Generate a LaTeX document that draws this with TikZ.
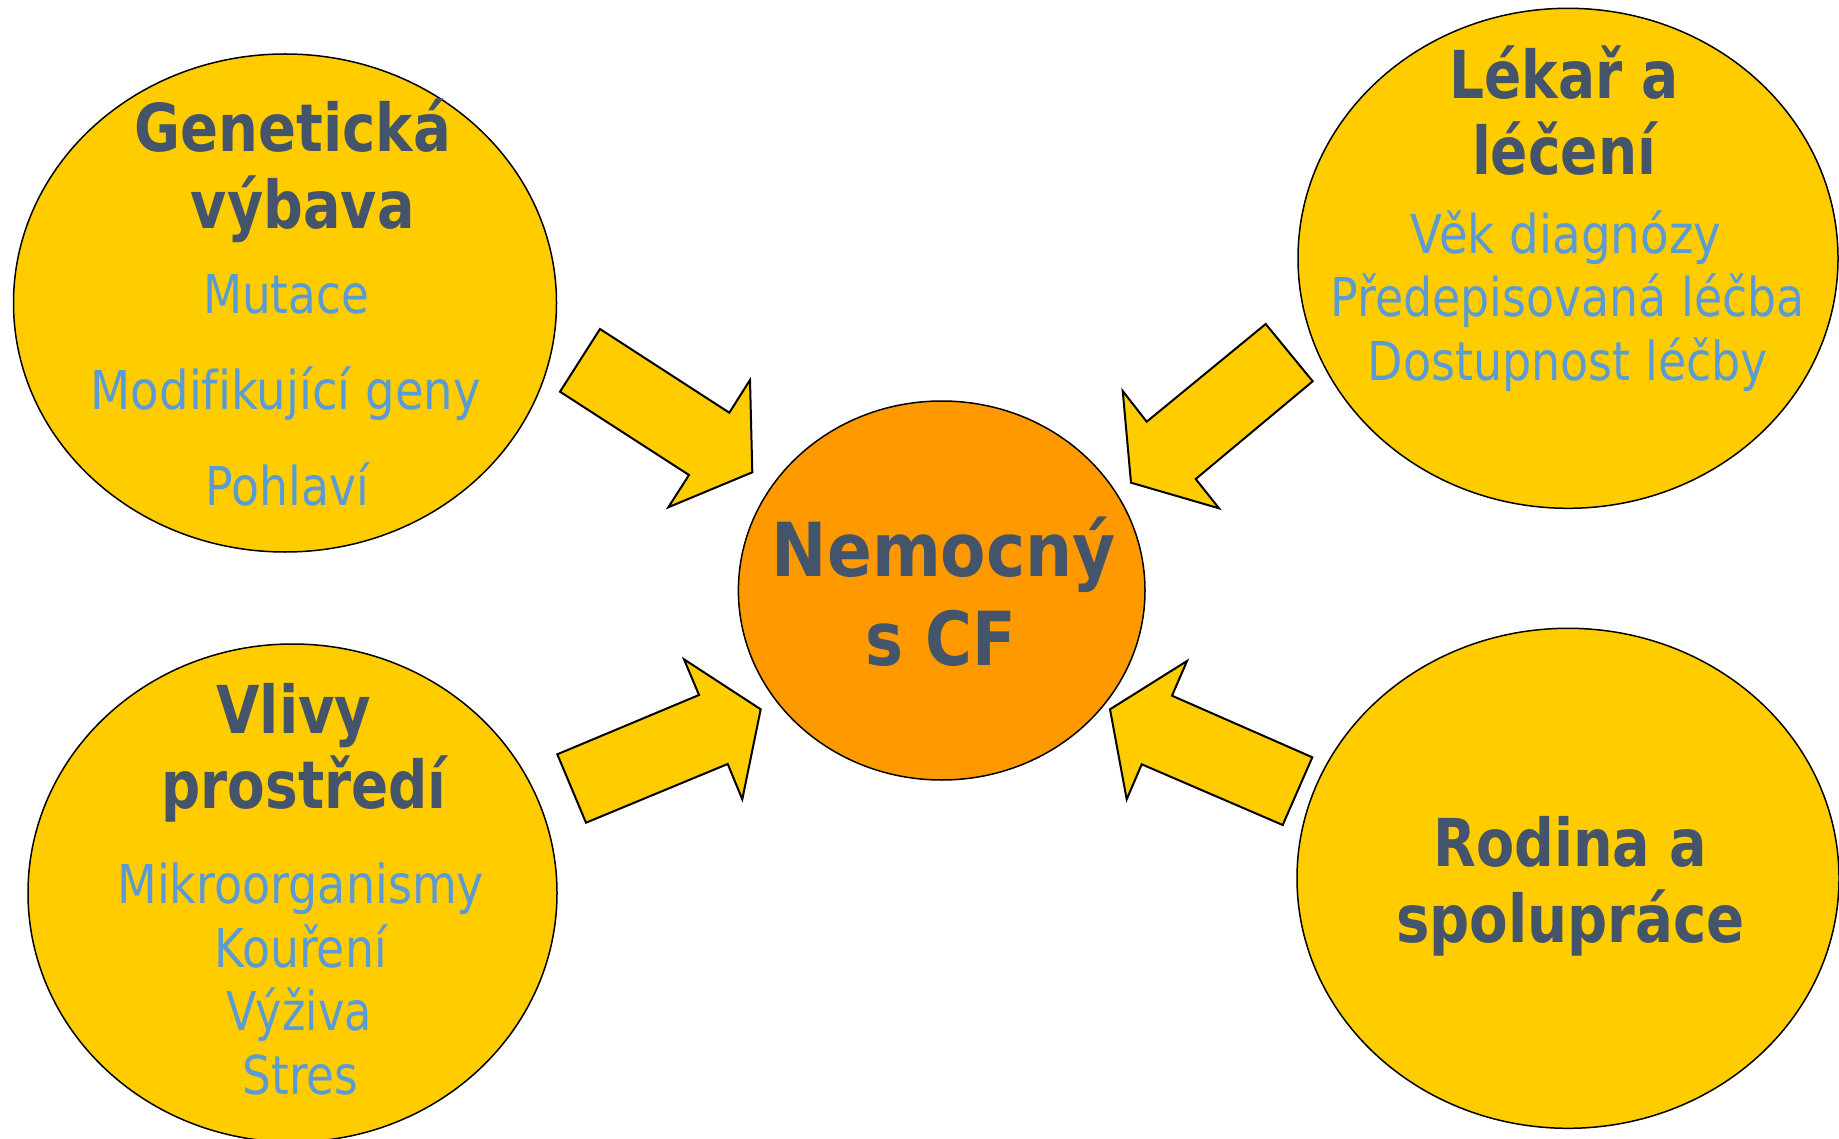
\documentclass[tikz,border=0pt]{standalone}
\usepackage{fontspec}
\setmainfont[Ligatures=NoCommon]{DejaVu Sans}
\usepackage{graphicx}
\usetikzlibrary{shapes.geometric}
\definecolor{cfyellow}{HTML}{FFCC00}
\definecolor{cforange}{HTML}{FF9900}
\definecolor{cftitle}{HTML}{44546A}
\definecolor{cfblue}{HTML}{5B9BD5}
\newcommand\fitline[2]{\resizebox{#1pt}{\height}{#2}}
\tikzset{
  ell/.style={ellipse, draw=black, line width=1.5pt, fill=cfyellow, inner sep=0pt},
  ttl/.style={anchor=base, inner sep=0pt, text=cftitle, font=\fontsize{66}{66}\selectfont\bfseries},
  bigttl/.style={anchor=base, inner sep=0pt, text=cftitle, font=\fontsize{74.5}{74.5}\selectfont\bfseries},
  itm/.style={anchor=base, inner sep=0pt, text=cfblue, font=\fontsize{53.5}{53.5}\selectfont},
  bigarrow/.style={draw=black, line width=2pt, fill=cfyellow, line join=miter}
}
\begin{document}
\begin{tikzpicture}[x=1pt, y=-1pt]
\useasboundingbox (0,0) rectangle (1839,1139);
\clip (0,0) rectangle (1839,1139);
% ellipses
\node[ell, minimum width=543pt, minimum height=498pt] (gen) at (285,303) {};
\node[ell, minimum width=540pt, minimum height=500pt] (lek) at (1568,258.3) {};
\node[ell, minimum width=529pt, minimum height=498pt] (vliv) at (292.5,893) {};
\node[ell, minimum width=542pt, minimum height=500pt] (rod) at (1568,878.3) {};
\node[ell, fill=cforange, minimum width=406.6pt, minimum height=379pt] (cf) at (941.7,590.5) {};
% arrows
\draw[bigarrow] (560,391.7) -- (600,329) -- (729.3,412.7) -- (750,380) -- (752.3,472.3) -- (668.3,507.3) -- (689,475) -- cycle;
\draw[bigarrow] (1265.7,324) -- (1312.7,381.3) -- (1195.7,479) -- (1219,508.3) -- (1131,482.7) -- (1122.7,391) -- (1146.7,421.7) -- cycle;
\draw[bigarrow] (557.3,754.3) -- (699,695) -- (684,659.3) -- (760.7,709.3) -- (742.3,799.3) -- (727.7,764) -- (586,822.7) -- cycle;
\draw[bigarrow] (1312.3,757.3) -- (1172,695.7) -- (1187,661) -- (1110,709.3) -- (1126.7,799.3) -- (1141.7,764.3) -- (1282.7,825) -- cycle;
% center text
\node[bigttl] (cf1) at (943.8,576) {\fitline{344}{Nemocný}};
\node[bigttl] (cf2) at (941,665.7) {\fitline{150.7}{s CF}};
% genetic
\node[ttl] (gen1) at (292.7,151.7) {\fitline{316.4}{Genetická}};
\node[ttl] (gen2) at (302.7,228.3) {\fitline{223.6}{výbava}};
\node[itm] (gen3) at (286,314) {\fitline{166}{Mutace}};
\node[itm] (gen4) at (285.8,409.3) {\fitline{390}{Modifikující geny}};
\node[itm] (gen5) at (287.3,505) {\fitline{163.6}{Pohlaví}};
% doctor
\node[ttl] (lek1) at (1564,98.3) {\fitline{229.4}{Lékař a}};
\node[ttl] (lek2) at (1564,175) {\fitline{184}{léčení}};
\node[itm] (lek3) at (1566,254) {\fitline{310.6}{Věk diagnózy}};
\node[itm] (lek4) at (1567.5,316.7) {\fitline{474.4}{Předepisovaná léčba}};
\node[itm] (lek5) at (1568,380.7) {\fitline{400.3}{Dostupnost léčby}};
% environment
\node[ttl] (vliv1) at (294,733.3) {\fitline{155}{Vlivy}};
\node[ttl] (vliv2) at (304,808.3) {\fitline{285}{prostředí}};
\node[itm] (vliv3) at (300.7,903.3) {\fitline{366.7}{Mikroorganismy}};
\node[itm] (vliv4) at (300.5,967.3) {\fitline{172.3}{Kouření}};
\node[itm] (vliv5) at (299.2,1030.7) {\fitline{145}{Výživa}};
\node[itm] (vliv6) at (300.5,1094) {\fitline{115.7}{Stres}};
% family
\node[ttl] (rod1) at (1570.3,866) {\fitline{274}{Rodina a}};
\node[ttl] (rod2) at (1570.5,942.7) {\fitline{349}{spolupráce}};
\end{tikzpicture}
\end{document}
